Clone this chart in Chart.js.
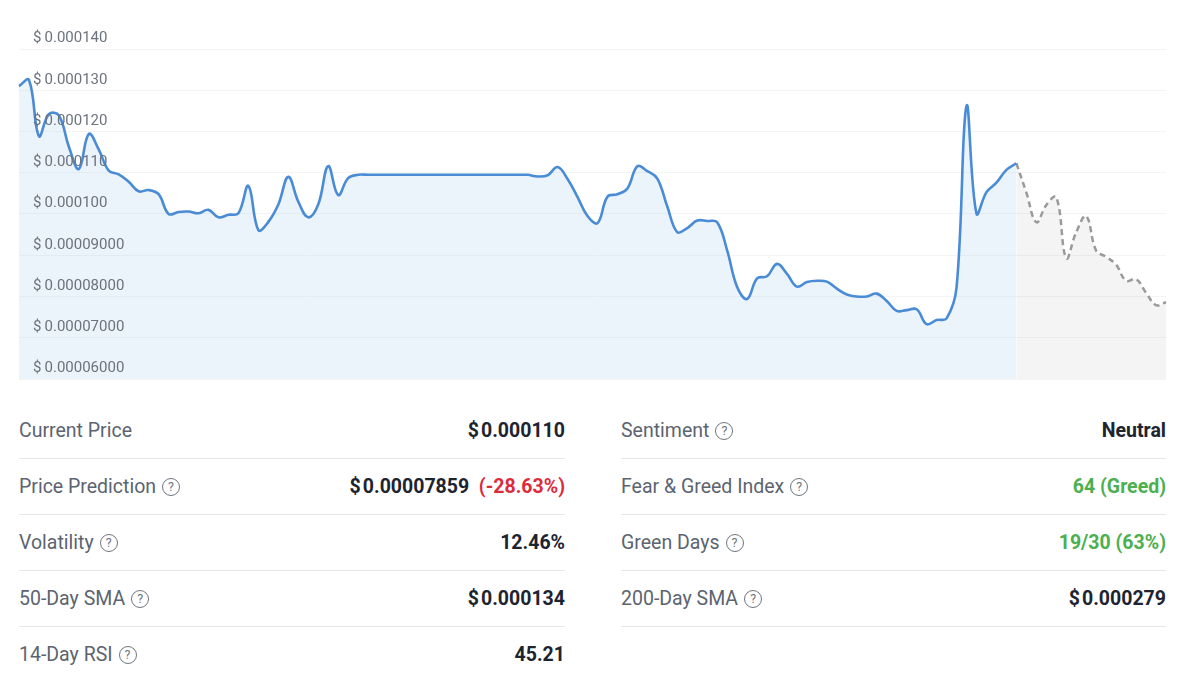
<!DOCTYPE html>
<html>
<head>
<meta charset="utf-8">
<script src="https://cdn.jsdelivr.net/npm/chart.js@4.4.1/dist/chart.umd.min.js"></script>
<style>
  html, body { margin: 0; padding: 0; background: #fff; }
  body { width: 1200px; height: 678px; position: relative; overflow: hidden; font-family: Roboto, "Noto Sans", sans-serif; }
  #chartWrap { position: absolute; left: 0; top: 0; width: 1200px; height: 390px; }
  .stats { position: absolute; top: 403px; width: 546px; }
  .stats.left { left: 19px; }
  .stats.right { left: 621px; width: 545px; }
  .row { height: 55px; display: flex; align-items: center; justify-content: space-between; border-bottom: 1px solid #e4e6e9; }
  .row.last { border-bottom: none; }
  .lbl { font-size: 19.5px; color: #5c6470; display: flex; align-items: center; }
  .val { font-size: 19.5px; font-weight: 700; color: #1d2430; }
  .q { display: inline-block; width: 16px; height: 16px; border: 1.4px solid #6f7680; border-radius: 50%; font-size: 12.5px; line-height: 16px; text-align: center; color: #6f7680; margin-left: 6px; font-weight: 400; }
  .red { color: #dc2c3c; }
  .green { color: #4caf50; }
</style>
</head>
<body>
<div id="chartWrap"><canvas id="priceChart"></canvas></div>

<div class="stats left">
  <div class="row"><span class="lbl">Current Price</span><span class="val">$&#8202;0.000110</span></div>
  <div class="row"><span class="lbl">Price Prediction<span class="q">?</span></span><span class="val">$&#8202;0.00007859&nbsp;&nbsp;<span class="red">(-28.63%)</span></span></div>
  <div class="row"><span class="lbl">Volatility<span class="q">?</span></span><span class="val">12.46%</span></div>
  <div class="row"><span class="lbl">50-Day SMA<span class="q">?</span></span><span class="val">$&#8202;0.000134</span></div>
  <div class="row last"><span class="lbl">14-Day RSI<span class="q">?</span></span><span class="val">45.21</span></div>
</div>

<div class="stats right">
  <div class="row"><span class="lbl">Sentiment<span class="q">?</span></span><span class="val">Neutral</span></div>
  <div class="row"><span class="lbl">Fear &amp; Greed Index<span class="q">?</span></span><span class="val green">64 (Greed)</span></div>
  <div class="row"><span class="lbl">Green Days<span class="q">?</span></span><span class="val green">19/30 (63%)</span></div>
  <div class="row"><span class="lbl">200-Day SMA<span class="q">?</span></span><span class="val">$&#8202;0.000279</span></div>
</div>

<script>
// price history
const history = [
  0.0001310, 0.0001325, 0.0001189, 0.0001242, 0.0001239, 0.0001163, 0.0001109, 0.0001194, 0.0001156, 0.0001105,
  0.0001096, 0.0001078, 0.0001055, 0.0001058, 0.0001048, 0.0001000, 0.0001005, 0.0001006, 0.0001002, 0.0001010,
  0.0000992, 0.0000998, 0.0001002, 0.0001068, 0.0000961, 0.0000981, 0.0001023, 0.0001090, 0.0001030, 0.0000992,
  0.0001023, 0.0001116, 0.0001046, 0.0001087, 0.0001095, 0.0001095, 0.0001095, 0.0001095, 0.0001095, 0.0001095,
  0.0001095, 0.0001095, 0.0001095, 0.0001095, 0.0001095, 0.0001095, 0.0001095, 0.0001095, 0.0001095, 0.0001095,
  0.0001095, 0.0001095, 0.0001091, 0.0001094, 0.0001114, 0.0001085, 0.0001041, 0.0000995, 0.0000978, 0.0001042,
  0.0001048, 0.0001062, 0.0001116, 0.0001104, 0.0001086, 0.0001018, 0.0000956, 0.0000966, 0.0000984, 0.0000983,
  0.0000980, 0.0000912, 0.0000823, 0.0000794, 0.0000844, 0.0000849, 0.0000879, 0.0000855, 0.0000824, 0.0000835,
  0.0000838, 0.0000836, 0.0000819, 0.0000805, 0.0000800, 0.0000800, 0.0000807, 0.0000789, 0.0000765, 0.0000767,
  0.0000769, 0.0000733, 0.0000743, 0.0000747, 0.0000822, 0.0001262, 0.0001001, 0.0001053, 0.0001076, 0.0001107,
  0.0001123
];

// forecast, starts at the last history point
const forecast = [
  0.0001123, 0.0001052, 0.0000980, 0.0001022, 0.0001041, 0.0000893, 0.0000956, 0.0000995, 0.0000911, 0.0000896,
  0.0000877, 0.0000838, 0.0000842, 0.0000809, 0.0000779, 0.0000786
];

const yTicks = [0.00006, 0.00007, 0.00008, 0.00009, 0.00010, 0.00011, 0.00012, 0.00013, 0.00014];

const total = history.length + forecast.length - 1;
const labels = [];
for (let i = 0; i < total; i++) labels.push(i);

const histData = labels.map(i => (i < history.length ? history[i] : null));
const foreData = labels.map(i => (i >= history.length - 1 ? forecast[i - history.length + 1] : null));

function fmtPrice(v) {
  const s = v >= 0.0000999 ? v.toFixed(6) : v.toFixed(8);
  return '$\u2009' + s;
}

const ctx = document.getElementById('priceChart').getContext('2d');
new Chart(ctx, {
  type: 'line',
  data: {
    labels: labels,
    datasets: [
      {
        label: 'Price',
        data: histData,
        borderColor: '#4a8bd6',
        backgroundColor: 'rgba(74, 144, 217, 0.11)',
        borderWidth: 2.6,
        fill: 'start',
        tension: 0.4,
        pointRadius: 0
      },
      {
        label: 'Prediction',
        data: foreData,
        borderColor: '#9a9a9a',
        backgroundColor: 'rgba(0, 0, 0, 0.045)',
        borderWidth: 2.5,
        borderDash: [6, 4],
        fill: 'start',
        tension: 0.4,
        pointRadius: 0
      }
    ]
  },
  options: {
    responsive: true,
    maintainAspectRatio: false,
    animation: false,
    layout: { padding: { left: 19, right: 34, top: 49, bottom: 11 } },
    plugins: { legend: { display: false }, tooltip: { enabled: false } },
    scales: {
      x: { display: false },
      y: {
        min: 0.00006,
        max: 0.00014,
        afterBuildTicks: axis => { axis.ticks = yTicks.map(v => ({ value: v })); },
        afterFit: axis => {
          axis.width = 0;
          axis.paddingTop = 0;
          axis.paddingBottom = 0;
        },
        border: { display: false },
        grid: { color: 'rgba(0, 0, 0, 0.045)', drawTicks: false },
        ticks: {
          mirror: true,
          padding: 14,
          labelOffset: -10.5,
          z: 1,
          color: '#6c737d',
          font: { family: 'Roboto', size: 15 },
          callback: v => fmtPrice(v)
        }
      }
    }
  }
});
</script>
</body>
</html>
